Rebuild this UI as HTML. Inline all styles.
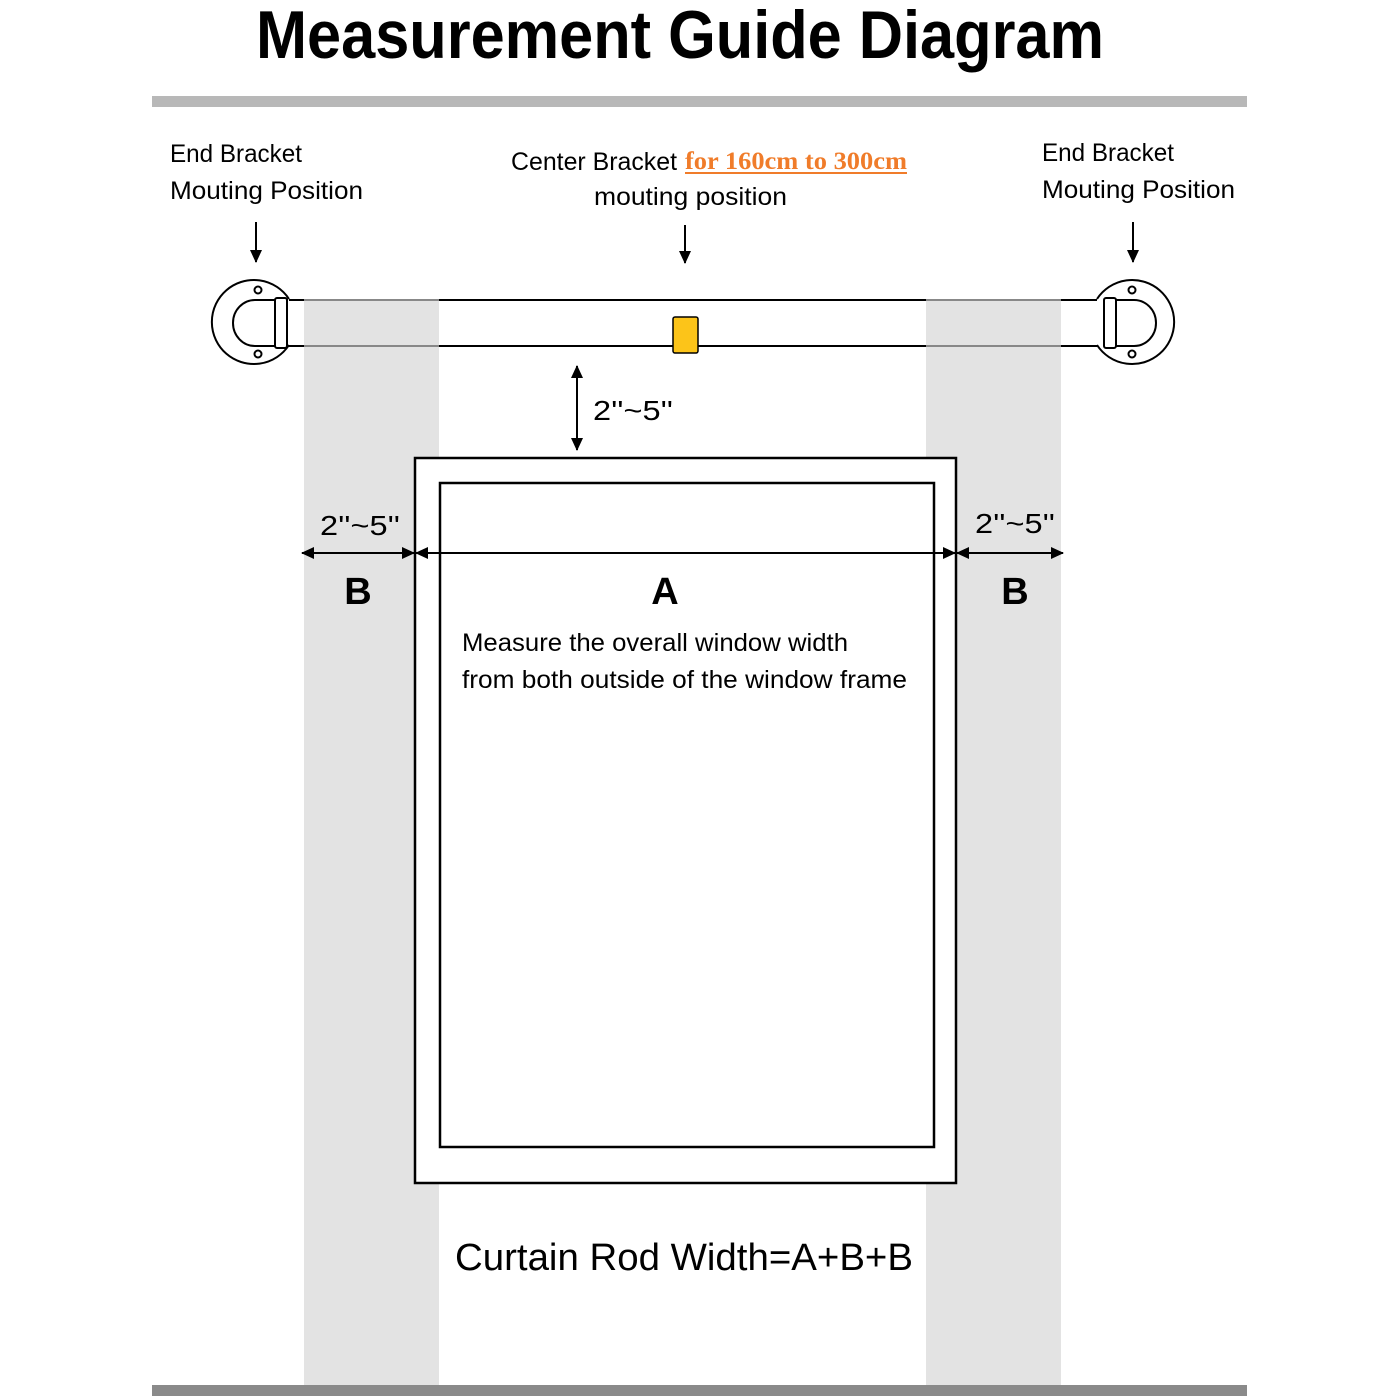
<!DOCTYPE html>
<html><head><style>body{margin:0;background:#fff}svg{display:block}</style></head><body>
<svg width="1400" height="1400" viewBox="0 0 1400 1400" xmlns="http://www.w3.org/2000/svg" font-family="Liberation Sans, DejaVu Sans, sans-serif">
<defs>
<marker id="ah" markerWidth="13" markerHeight="12" refX="12" refY="6" orient="auto" markerUnits="userSpaceOnUse"><path d="M0,0 L13,6 L0,12 z" fill="#000"/></marker>
</defs>
<text x="680" y="58" font-size="68" font-weight="bold" text-anchor="middle" textLength="848" lengthAdjust="spacingAndGlyphs">Measurement Guide Diagram</text>
<rect x="152" y="96" width="1095" height="11" fill="#b8b8b8"/>
<rect x="152" y="1385" width="1095" height="11" fill="#8a8a8a"/>
<rect x="304" y="300" width="135" height="1085" fill="#e3e3e3"/>
<rect x="926" y="300" width="135" height="1085" fill="#e3e3e3"/>
<g font-size="25" fill="#000">
<text x="170" y="162" textLength="132" lengthAdjust="spacingAndGlyphs">End Bracket</text>
<text x="170" y="199" textLength="193" lengthAdjust="spacingAndGlyphs">Mouting Position</text>
<text x="1042" y="161" textLength="132" lengthAdjust="spacingAndGlyphs">End Bracket</text>
<text x="1042" y="198" textLength="193" lengthAdjust="spacingAndGlyphs">Mouting Position</text>
<text x="511" y="170" textLength="166" lengthAdjust="spacingAndGlyphs">Center Bracket</text>
<text x="594" y="205" textLength="193" lengthAdjust="spacingAndGlyphs">mouting position</text>
</g>
<text x="685" y="169" font-family="Liberation Serif, serif" font-weight="bold" font-size="25" fill="#f07c2a" textLength="222" lengthAdjust="spacingAndGlyphs">for 160cm to 300cm</text>
<line x1="685" y1="173" x2="907" y2="173" stroke="#f07c2a" stroke-width="2"/>
<g stroke="#000" stroke-width="2">
<line x1="256" y1="222" x2="256" y2="262" marker-end="url(#ah)"/>
<line x1="685" y1="225" x2="685" y2="263" marker-end="url(#ah)"/>
<line x1="1133" y1="222" x2="1133" y2="262" marker-end="url(#ah)"/>
</g>
<g stroke-width="2" fill="none">
<line x1="288" y1="300" x2="304" y2="300" stroke="#000"/>
<line x1="288" y1="346" x2="304" y2="346" stroke="#000"/>
<line x1="304" y1="300" x2="439" y2="300" stroke="#888"/>
<line x1="304" y1="346" x2="439" y2="346" stroke="#888"/>
<line x1="439" y1="300" x2="926" y2="300" stroke="#000"/>
<line x1="439" y1="346" x2="926" y2="346" stroke="#000"/>
<line x1="926" y1="300" x2="1061" y2="300" stroke="#888"/>
<line x1="926" y1="346" x2="1061" y2="346" stroke="#888"/>
<line x1="1061" y1="300" x2="1105" y2="300" stroke="#000"/>
<line x1="1061" y1="346" x2="1105" y2="346" stroke="#000"/>
</g>
<g stroke="#000" stroke-width="2" fill="#fff">
<path d="M289,299 A42,42 0 1 0 289,345"/>
<circle cx="258" cy="290" r="3.5"/>
<circle cx="258" cy="354" r="3.5"/>
<path d="M288,300 L255,300 A22,23 0 0 0 255,346 L288,346"/>
<rect x="275" y="298" width="12" height="50" rx="2"/>
</g>
<g stroke="#000" stroke-width="2" fill="#fff">
<path d="M1097,299 A42,42 0 1 1 1097,345"/>
<circle cx="1132" cy="290" r="3.5"/>
<circle cx="1132" cy="354" r="3.5"/>
<path d="M1105,300 L1134,300 A22,23 0 0 1 1134,346 L1105,346"/>
<rect x="1104" y="298" width="12" height="50" rx="2"/>
</g>
<rect x="673" y="317" width="25" height="36" rx="2" fill="#fcc419" stroke="#000" stroke-width="1.5"/>
<g stroke="#000" stroke-width="2">
<line x1="577" y1="380" x2="577" y2="366" marker-end="url(#ah)"/>
<line x1="577" y1="375" x2="577" y2="450" marker-end="url(#ah)"/>
</g>
<text x="593" y="420" font-size="28" textLength="80" lengthAdjust="spacingAndGlyphs">2''~5''</text>
<rect x="415" y="458" width="541" height="725" fill="#fff" stroke="#000" stroke-width="2.5"/>
<rect x="440" y="483" width="494" height="664" fill="#fff" stroke="#000" stroke-width="2.5"/>
<g stroke="#000" stroke-width="2">
<line x1="360" y1="553" x2="302" y2="553" marker-end="url(#ah)"/>
<line x1="360" y1="553" x2="414" y2="553" marker-end="url(#ah)"/>
<line x1="680" y1="553" x2="416" y2="553" marker-end="url(#ah)"/>
<line x1="680" y1="553" x2="955" y2="553" marker-end="url(#ah)"/>
<line x1="1010" y1="553" x2="957" y2="553" marker-end="url(#ah)"/>
<line x1="1010" y1="553" x2="1063" y2="553" marker-end="url(#ah)"/>
</g>
<text x="320" y="535" font-size="28" textLength="80" lengthAdjust="spacingAndGlyphs">2''~5''</text>
<text x="975" y="533" font-size="28" textLength="80" lengthAdjust="spacingAndGlyphs">2''~5''</text>
<g font-size="38" font-weight="bold" text-anchor="middle">
<text x="358" y="604">B</text>
<text x="665" y="604">A</text>
<text x="1015" y="604">B</text>
</g>
<g font-size="25">
<text x="462" y="651" textLength="386" lengthAdjust="spacingAndGlyphs">Measure the overall window width</text>
<text x="462" y="688" textLength="445" lengthAdjust="spacingAndGlyphs">from both outside of the window frame</text>
</g>
<text x="455" y="1270" font-size="38" textLength="458" lengthAdjust="spacingAndGlyphs">Curtain Rod Width=A+B+B</text>
</svg>
</body></html>
